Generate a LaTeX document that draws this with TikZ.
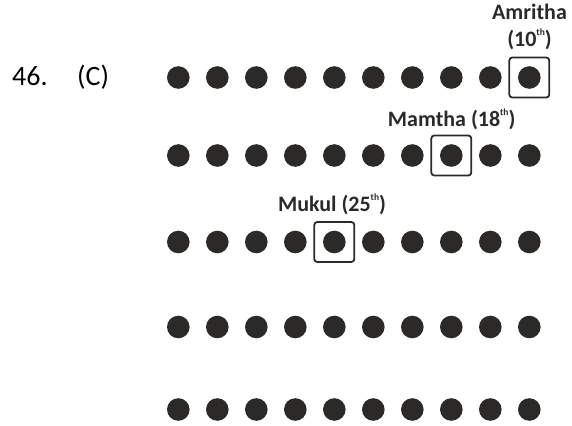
\documentclass[tikz,border=0pt]{standalone}
\usepackage{fontspec}
\setmainfont{Carlito}
\definecolor{ink}{HTML}{2B2A29}
\newcommand\ordth{\raisebox{0.5em}{\fontsize{9.5}{9.5}\selectfont th}}
\begin{document}
\begin{tikzpicture}[x=1pt,y=-1pt,
  dot/.style={circle,fill=ink,minimum size=22.6pt,inner sep=0pt},
  pick/.style={draw=ink,line width=1.8pt,rounded corners=3pt,minimum size=40pt,inner sep=0pt},
  lab/.style={font=\fontsize{22}{25}\selectfont\bfseries,text=ink,inner sep=0pt,anchor=base},
  qtext/.style={font=\fontsize{28}{30}\selectfont,text=black,inner sep=0pt,anchor=base west}]
\useasboundingbox (0,0) rectangle (572,425);
\foreach \r/\y in {1/77.5,2/155.5,3/242,4/327,5/409.5}
  \foreach \c in {1,...,10}
    \node[dot] (d\r-\c) at ({178.3+39*(\c-1)},\y) {};
\node[pick] (b1) at (d1-10) {};
\node[pick] (b2) at (d2-8) {};
\node[pick] (b3) at (d3-5) {};
\node[qtext] (qn) at (12,85.7) {46.};
\node[qtext] (qc) at (77,85.7) {(C)};
\node[lab] (l1a) at (529.5,20) {Amritha};
\node[lab] (l1b) at (529.5,46.7) {(10\ordth)};
\node[lab] (l2) at (451.7,126.7) {Mamtha (18\ordth)};
\node[lab] (l3) at (332,211) {Mukul (25\ordth)};
\end{tikzpicture}
\end{document}
